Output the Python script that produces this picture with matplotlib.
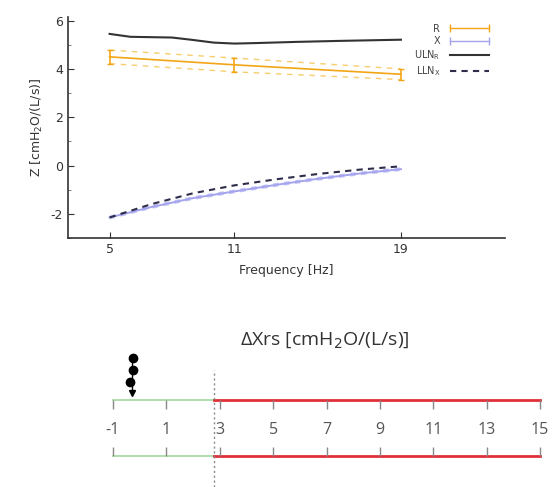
import matplotlib.pyplot as plt
import numpy as np
from matplotlib.lines import Line2D

plt.rcParams["axes.unicode_minus"] = False

# top panel: impedance vs frequency
freq_r = [5, 11, 19]
r_mean = [4.5, 4.17, 3.78]
r_upper = [4.78, 4.45, 4.0]
r_lower = [4.22, 3.88, 3.56]

freq_x = [5, 7, 9, 11, 13, 15, 17, 19]
x_mean = [-2.15, -1.72, -1.35, -1.07, -0.8, -0.55, -0.33, -0.15]
x_upper = [-2.1, -1.67, -1.3, -1.02, -0.75, -0.5, -0.28, -0.1]
x_lower = [-2.2, -1.77, -1.4, -1.12, -0.85, -0.6, -0.38, -0.2]

freq_uln = [5, 6, 8, 9, 10, 11, 12, 14, 16, 19]
uln_r = [5.45, 5.33, 5.30, 5.20, 5.09, 5.05, 5.07, 5.12, 5.16, 5.21]

freq_lln = [5, 7, 9, 11, 13, 15, 17, 19]
lln_x = [-2.15, -1.6, -1.15, -0.82, -0.57, -0.35, -0.17, -0.03]

# bottom panel: delta Xrs scale
scale_ticks = [-1, 1, 3, 5, 7, 9, 11, 13, 15]
scale_min, scale_max = -1, 15
threshold = 2.8
obs_dxrs = [-0.25, -0.25, -0.35]
arrow_dxrs = -0.28

c_r = "#f2a516"
c_r_band = "#f7cd6e"
c_x = "#a3a3ee"
c_x_band = "#c4c4f5"

fig = plt.figure(figsize=(5.55, 4.87), dpi=100)

ax = fig.add_axes([68 / 555, 1 - 238 / 487, (505 - 68) / 555, (238 - 17) / 487])
ax.plot(freq_r, r_upper, color=c_r_band, lw=1, ls=(0, (4, 4)))
ax.plot(freq_r, r_lower, color=c_r_band, lw=1, ls=(0, (4, 4)))
ax.errorbar(freq_r, r_mean,
            yerr=[np.subtract(r_mean, r_lower), np.subtract(r_upper, r_mean)],
            color=c_r, lw=1.2, capsize=2.5, elinewidth=1.2)
ax.plot(freq_x, x_upper, color=c_x_band, lw=1, ls=(0, (4, 4)))
ax.plot(freq_x, x_lower, color=c_x_band, lw=1, ls=(0, (4, 4)))
ax.plot(freq_x, x_mean, color=c_x, lw=1.4)
ax.plot(freq_uln, uln_r, color="#333333", lw=1.5)
ax.plot(freq_lln, lln_x, color="#2e2e4a", lw=1.5, ls=(0, (3, 2.5)))

ax.set_xlim(3, 24)
ax.set_ylim(-3, 6.15)
ax.set_xticks(freq_r)
ax.set_yticks([-2, 0, 2, 4, 6])
ax.set_yticks([-3, -1, 1, 3, 5], minor=True)
ax.spines["top"].set_visible(False)
ax.spines["right"].set_visible(False)
for s in ["left", "bottom"]:
    ax.spines[s].set_color("#333333")
    ax.spines[s].set_linewidth(1.2)
ax.tick_params(direction="in", length=4, labelsize=9, colors="#333333")
ax.tick_params(which="minor", direction="in", length=2.5, colors="#666666")
ax.set_xlabel("Frequency [Hz]", fontsize=9, color="#333333", labelpad=6)
ax.set_ylabel("Z [cmH$_2$O/(L/s)]", fontsize=9, color="#333333", labelpad=4)

handles = [
    Line2D([], [], color=c_r, marker="|", markersize=6, lw=1),
    Line2D([], [], color=c_x, marker="|", markersize=6, lw=1),
    Line2D([], [], color="#333333", lw=1.5),
    Line2D([], [], color="#2e2e4a", lw=1.5, ls=(0, (3, 2.5))),
]
labels = ["R", "X", "ULN$_\\mathregular{R}$", "LLN$_\\mathregular{X}$"]
leg = ax.legend(handles, labels, loc="upper right", bbox_to_anchor=(0.99, 1.01),
                frameon=False, markerfirst=False, numpoints=2, fontsize=7,
                handlelength=4.6, labelspacing=0.25, handletextpad=0.7)
for t in leg.get_texts():
    t.set_color("#444444")

# bottom panel
bx = fig.add_axes([0, 0, 1, (487 - 330) / 487])
px_per_unit = (540 - 113) / (scale_max - scale_min)
bx.set_xlim(scale_min - 113 / px_per_unit, scale_min + (555 - 113) / px_per_unit)
bx.set_ylim(0, 157)
bx.axis("off")

y_top, y_bot, y_lab = 87, 31, 57
for y in (y_top, y_bot):
    bx.plot([scale_min, threshold], [y, y], color="#9fd99f", lw=1.2)
    bx.plot([threshold, scale_max], [y, y], color="#e0303a", lw=2)
bx.vlines(scale_ticks, y_top - 9, y_top, color="#888888", lw=1)
bx.vlines(scale_ticks, y_bot, y_bot + 9, color="#888888", lw=1)
for t in scale_ticks:
    bx.text(t, y_lab, str(t), ha="center", va="center", fontsize=11.5,
            color="#555555", family="Open Sans")
bx.plot([threshold, threshold], [0, 117], color="#888888", lw=1, ls=(0, (1.5, 2)))

bx.plot([arrow_dxrs, arrow_dxrs], [94, 129], color="black", lw=1)
bx.plot(obs_dxrs, [129, 117, 105], "o", color="black", markersize=6)
bx.plot([arrow_dxrs], [94], "v", color="black", markersize=5)

bx.text(6.94, 147, "ΔXrs [cmH$_2$O/(L/s)]", ha="center", va="center",
        fontsize=14, color="#333333", family="Open Sans")

fig.savefig("out.png", dpi=100)
